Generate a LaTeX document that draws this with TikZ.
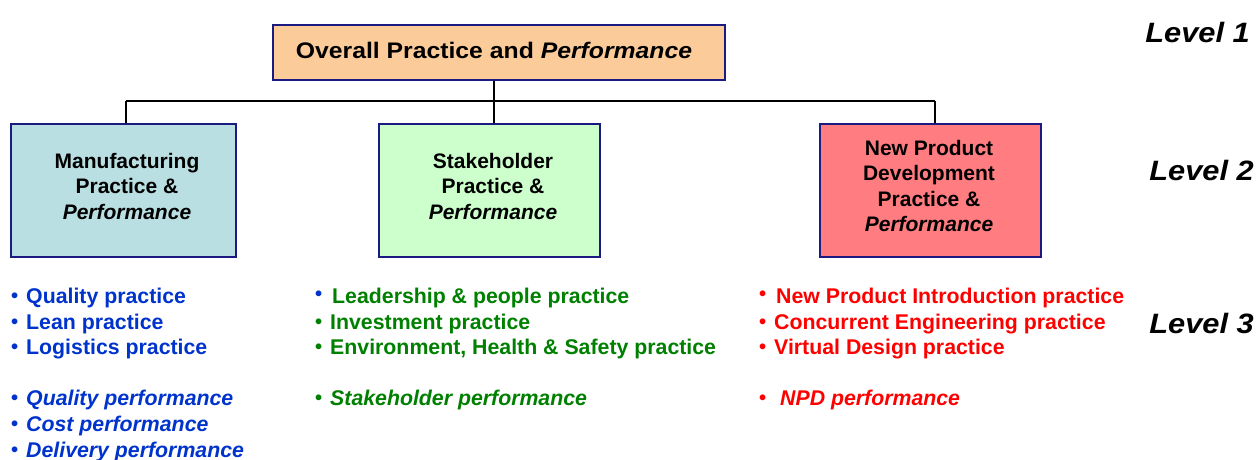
\documentclass[tikz,border=0pt]{standalone}
\usepackage{fontspec}
\usepackage{graphicx}
\setmainfont{Liberation Sans}
\definecolor{peach}{HTML}{FBCB9A}
\definecolor{paleblue}{HTML}{B9DFE3}
\definecolor{palegreen}{HTML}{CCFFCC}
\definecolor{salmon}{HTML}{FF7C80}
\definecolor{navy}{HTML}{1A1A80}
\definecolor{mfgblue}{HTML}{0033CC}
\definecolor{stkgreen}{HTML}{008000}
\definecolor{npdred}{HTML}{FF0000}
\newcommand{\blt}{\raisebox{0.5pt}{\scalebox{0.95}{•}}\hspace{2pt}}
\begin{document}
\begin{tikzpicture}[x=1pt,y=-1pt,
  box/.style={draw=navy,line width=1.6pt,inner sep=0pt,anchor=north west},
  boxtext/.style={align=center,font=\fontsize{21}{25.5}\selectfont\bfseries,inner sep=0pt},
  item/.style={anchor=base west,inner sep=0pt,font=\fontsize{21.3}{25}\selectfont\bfseries},
  level/.style={anchor=base east,inner sep=0pt,font=\fontsize{28}{30}\selectfont\bfseries\itshape},
  link/.style={line width=2.8pt,black}]
\useasboundingbox (0,0) rectangle (1260,459);

% level 1
\node[box,fill=peach,minimum width=452pt,minimum height=55pt] (top) at (272,24) {};
\node[inner sep=0pt,anchor=base,font=\fontsize{22.5}{26}\selectfont\bfseries] (toptext) at (494,58)
  {\scalebox{1.1}[1]{Overall Practice and \textit{Performance}}};

% level 2
\node[box,fill=paleblue,minimum width=225pt,minimum height=133pt] (mfg) at (10,123) {};
\node[box,fill=palegreen,minimum width=221pt,minimum height=133pt] (stk) at (378,123) {};
\node[box,fill=salmon,minimum width=221pt,minimum height=133pt] (npd) at (819,123) {};
\node[boxtext] (mfgtext) at (127,186) {Manufacturing\\Practice \&\\\textit{Performance}};
\node[boxtext] (stktext) at (493,186) {Stakeholder\\Practice \&\\\textit{Performance}};
\node[boxtext] (npdtext) at (929,186) {New Product\\Development\\Practice \&\\\textit{Performance}};

% tree connectors
\coordinate (jL) at (126,101);
\coordinate (jM) at (494,101);
\coordinate (jR) at (935,101);
\draw[link] (top.south -| jM) -- (jM);
\draw[link] (jL) -- (jR);
\draw[link] (jL) -- (jL |- mfg.north);
\draw[link] (jM) -- (jM |- stk.north);
\draw[link] (jR) -- (jR |- npd.north);

% level 3: manufacturing
\begin{scope}[every node/.append style={text=mfgblue}]
\node[item] (m1) at (11,303) {\blt\ Quality practice};
\node[item] (m2) at (11,329) {\blt\ Lean practice};
\node[item] (m3) at (11,354) {\blt\ Logistics practice};
\node[item] (m4) at (11,405) {\blt\ \textit{Quality performance}};
\node[item] (m5) at (11,431) {\blt\ \textit{Cost performance}};
\node[item] (m6) at (11,457) {\blt\ \textit{Delivery performance}};
\end{scope}

% level 3: stakeholder
\begin{scope}[every node/.append style={text=stkgreen}]
\node[item] (s1) at (315,303) {\raisebox{3pt}{\color{mfgblue}\scalebox{0.95}{•}}\hspace{4pt}\ Leadership \& people practice};
\node[item] (s2) at (315,329) {\blt\ Investment practice};
\node[item] (s3) at (315,354) {\blt\ Environment, Health \& Safety practice};
\node[item] (s4) at (315,405) {\blt\ \textit{Stakeholder performance}};
\end{scope}

% level 3: new product development
\begin{scope}[every node/.append style={text=npdred}]
\node[item] (n1) at (759,303) {\raisebox{3pt}{\scalebox{0.95}{•}}\hspace{4pt}\ New Product Introduction practice};
\node[item] (n2) at (759,329) {\blt\ Concurrent Engineering practice};
\node[item] (n3) at (759,354) {\blt\ Virtual Design practice};
\node[item] (n4) at (759,405) {\blt\hspace{6pt}\ \textit{NPD performance}};
\end{scope}

% level labels
\node[level] (lv1) at (1250,42) {\scalebox{1.1}[1]{Level 1}};
\node[level] (lv2) at (1254,180) {\scalebox{1.1}[1]{Level 2}};
\node[level] (lv3) at (1254,333) {\scalebox{1.1}[1]{Level 3}};
\end{tikzpicture}
\end{document}
